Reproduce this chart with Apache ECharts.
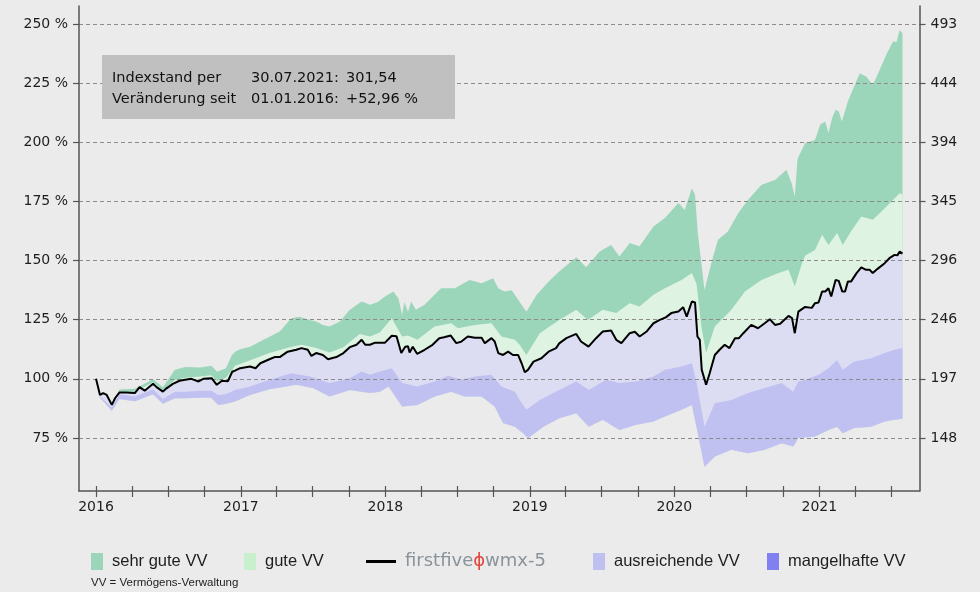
<!DOCTYPE html>
<html>
<head>
<meta charset="utf-8">
<script src="https://cdn.jsdelivr.net/npm/echarts@6.0.0/dist/echarts.min.js"></script>
<style>html,body{margin:0;padding:0;background:#ebebeb}#c{width:980px;height:592px}</style>
</head>
<body>
<div id="c"></div>
<script>
// ---------- data ----------
const yearLabels = [2016, 2017, 2018, 2019, 2020, 2021];
const leftTicks = [75, 100, 125, 150, 175, 200, 225, 250];
const rightLabels = ['148', '197', '246', '296', '345', '394', '444', '493'];
const legendNames = ['sehr gute VV', 'gute VV', 'firstfive wmx-5', 'ausreichende VV', 'mangelhafte VV'];
const infoRows = [
  ['Indexstand per', '30.07.2021:', '301,54'],
  ['Veränderung seit', '01.01.2016:', '+52,96 %']
];
const footNote = 'VV = Vermögens-Verwaltung';

// firstfive wmx-5 index (in % of 01.01.2016)
const indexLine = [
['2016-01-01',100],['2016-01-11',93.2],['2016-01-19',94],['2016-01-28',93.2],['2016-02-10',89],['2016-02-18',91.8],['2016-02-29',94.2],['2016-03-17',94.2],['2016-04-08',94],['2016-04-20',96.5],['2016-05-03',95],['2016-05-24',97.9],['2016-06-02',96.5],['2016-06-18',94.6],['2016-06-27',96],['2016-07-13',97.9],['2016-07-30',99.2],['2016-08-13',99.6],['2016-08-29',100],['2016-09-16',98.9],['2016-09-28',100],['2016-10-19',100.3],['2016-11-01',97.5],['2016-11-14',99.2],['2016-11-29',99],['2016-12-10',103],['2016-12-17',103.5],['2016-12-30',104.5],
['2017-01-24',105.2],['2017-02-07',104.5],['2017-02-19',106.6],['2017-03-14',108.3],['2017-03-27',109.2],['2017-04-09',109.2],['2017-04-29',111.5],['2017-05-21',112.3],['2017-06-03',113],['2017-06-19',112.3],['2017-06-28',109.7],['2017-07-10',110.9],['2017-07-27',110.1],['2017-08-09',108.3],['2017-08-30',109.2],['2017-09-17',110.9],['2017-10-03',113.4],['2017-10-20',114.4],['2017-11-02',116.5],['2017-11-11',114.4],['2017-11-23',114.4],['2017-12-06',115.3],['2017-12-31',115.3],
['2018-01-17',118.2],['2018-01-29',118],['2018-02-10',110.9],['2018-02-20',113.6],['2018-02-27',113.8],['2018-03-03',111.1],['2018-03-11',113.6],['2018-03-22',110.6],['2018-04-10',112.3],['2018-04-30',114.4],['2018-05-17',117.2],['2018-05-29',117.6],['2018-06-15',118.3],['2018-06-29',115.1],['2018-07-11',115.7],['2018-07-28',117.9],['2018-08-15',117.4],['2018-09-01',117.4],['2018-09-09',115.1],['2018-09-26',117.2],['2018-10-04',115.8],['2018-10-13',110.9],['2018-10-25',110.1],['2018-11-07',111.5],['2018-11-19',110.1],['2018-12-02',110.1],['2018-12-11',106.6],['2018-12-19',102.8],['2018-12-27',103.8],
['2019-01-10',107.3],['2019-01-30',108.7],['2019-02-17',111.5],['2019-03-08',113],['2019-03-16',115],['2019-04-03',117.2],['2019-04-28',119],['2019-05-10',115.8],['2019-05-29',113.6],['2019-06-17',117.2],['2019-07-04',120],['2019-07-25',120.4],['2019-08-07',116.5],['2019-08-20',115.1],['2019-09-10',119.3],['2019-09-23',119.9],['2019-10-05',117.9],['2019-10-22',119.9],['2019-11-09',123.5],['2019-11-25',124.9],['2019-12-10',126],['2019-12-24',127.8],
['2020-01-11',128.5],['2020-01-23',130.3],['2020-02-01',126.3],['2020-02-14',132.7],['2020-02-22',132.3],['2020-02-28',117.9],['2020-03-05',116.5],['2020-03-10',103.8],['2020-03-21',97.5],['2020-03-30',102.4],['2020-04-12',110.1],['2020-04-24',112.3],['2020-05-07',114.4],['2020-05-19',113],['2020-06-02',117.2],['2020-06-12',117.2],['2020-06-23',119.3],['2020-07-13',122.8],['2020-07-30',121.4],['2020-08-16',123.5],['2020-08-29',125.2],['2020-09-11',122.8],['2020-09-24',123.3],['2020-10-15',126.6],['2020-10-24',125.7],['2020-10-31',119.3],['2020-11-09',128.4],['2020-11-26',130.4],['2020-12-13',130],['2020-12-21',132],['2020-12-30',132.3],
['2021-01-08',136.9],['2021-01-16',136.9],['2021-01-24',138.3],['2021-01-31',134.8],['2021-02-11',141.8],['2021-02-19',141.4],['2021-02-28',136.9],['2021-03-07',136.9],['2021-03-14',141.1],['2021-03-22',141.1],['2021-04-05',144.7],['2021-04-17',147.1],['2021-04-29',146.1],['2021-05-08',146.1],['2021-05-16',144.7],['2021-05-28',146.5],['2021-06-15',148.9],['2021-06-27',151],['2021-07-10',152.4],['2021-07-17',152.2],['2021-07-23',153.8],['2021-07-30',152.96]
];

// upper edge of "sehr gute VV"
const sehrGuteTop = [
['2016-01-01',100],['2016-01-11',93.5],['2016-02-10',89.5],['2016-02-29',95.5],['2016-04-08',95.8],['2016-05-24',99.8],['2016-06-18',96.5],['2016-07-18',103.8],['2016-08-13',105],['2016-09-20',104.8],['2016-10-18',105.5],['2016-11-02',103],['2016-11-24',104.5],['2016-12-09',110],['2016-12-17',111.5],['2016-12-30',112.5],
['2017-01-24',113.6],['2017-02-27',116.5],['2017-04-09',120],['2017-05-08',125.6],['2017-05-29',126.3],['2017-06-24',124.9],['2017-07-10',124.2],['2017-07-27',122.8],['2017-08-13',122.1],['2017-09-08',124.2],['2017-10-03',129.2],['2017-11-02',132.7],['2017-11-23',131.3],['2017-12-13',132.5],['2017-12-31',134.8],
['2018-01-21',136.9],['2018-02-03',134],['2018-02-12',127],['2018-02-18',132.5],['2018-02-27',128.4],['2018-03-07',132.7],['2018-03-19',129.2],['2018-04-10',131.3],['2018-05-05',135.5],['2018-05-22',138.3],['2018-06-25',138.3],['2018-08-02',141.8],['2018-09-01',140.4],['2018-09-30',142.5],['2018-10-13',138.3],['2018-10-29',136.9],['2018-11-16',137.5],['2018-12-06',132.5],['2018-12-23',128.4],
['2019-01-18',135.5],['2019-02-21',141.8],['2019-03-16',145.4],['2019-04-28',151.4],['2019-05-23',147.2],['2019-06-26',153.8],['2019-07-25',156.6],['2019-08-15',151.7],['2019-09-10',157.4],['2019-10-05',156],['2019-11-09',164.4],['2019-12-08',168],
['2020-01-11',174.3],['2020-01-27',171.4],['2020-02-14',180.6],['2020-02-22',177.8],['2020-02-29',161.6],['2020-03-17',137.6],['2020-04-03',148.9],['2020-04-20',158.8],['2020-05-15',162.3],['2020-06-10',170],['2020-07-05',175.7],['2020-08-08',182],['2020-09-11',184.1],['2020-10-10',188.4],['2020-10-23',182.7],['2020-10-31',177.1],['2020-11-07',193],['2020-11-26',199.6],['2020-12-21',201],
['2021-01-03',207.4],['2021-01-16',208.8],['2021-01-24',203.9],['2021-02-02',210.2],['2021-02-11',213.7],['2021-02-19',213],['2021-02-27',208.8],['2021-03-14',217.2],['2021-04-13',229.2],['2021-04-29',227.8],['2021-05-16',224.3],['2021-05-28',228.5],['2021-06-19',237],['2021-07-06',242.6],['2021-07-15',242.4],['2021-07-23',247.5],['2021-07-30',246.1]
];

// upper edge of "gute VV"
const guteTop = [
['2016-01-01',100],['2016-01-11',93.4],['2016-02-10',89.2],['2016-02-29',94.6],['2016-04-08',94.6],['2016-05-24',98.6],['2016-06-18',95.2],['2016-07-18',99.5],['2016-08-13',100.5],['2016-09-20',101],['2016-10-18',101.5],['2016-11-02',99],['2016-11-24',100.5],['2016-12-10',103.8],['2016-12-17',105.5],
['2017-01-16',107.3],['2017-03-14',110.9],['2017-05-04',113.4],['2017-06-03',114.4],['2017-07-10',113],['2017-08-13',111.1],['2017-09-17',113.4],['2017-10-28',119],['2017-11-23',117.9],['2017-12-18',119.6],
['2018-01-17',125.6],['2018-02-12',117.9],['2018-02-27',118.3],['2018-03-23',116.5],['2018-05-05',122.1],['2018-06-16',123.5],['2018-07-03',121.4],['2018-08-15',122.8],['2018-09-26',123.5],['2018-10-21',117.9],['2018-11-24',116.5],['2018-12-06',114.4],['2018-12-23',110.1],
['2019-01-26',119.3],['2019-03-16',124.9],['2019-04-28',129.2],['2019-05-27',124.9],['2019-07-04',129.2],['2019-08-07',127.8],['2019-09-10',132],['2019-10-05',130.6],['2019-11-09',135.5],['2019-12-08',138.3],
['2020-01-19',141.8],['2020-02-14',144.7],['2020-02-26',140],['2020-03-09',122.1],['2020-03-21',110.9],['2020-04-12',122.1],['2020-05-24',129.2],['2020-06-27',136.9],['2020-08-08',141.8],['2020-09-20',144.7],['2020-10-15',146.1],['2020-10-31',139],['2020-11-18',148.9],['2020-11-26',152],['2020-12-21',154.5],
['2021-01-08',160.9],['2021-01-24',156.6],['2021-02-15',161.6],['2021-03-01',156.6],['2021-03-22',162.3],['2021-04-17',168.6],['2021-05-16',167.2],['2021-06-07',170.7],['2021-07-02',175],['2021-07-23',178.5],['2021-07-30',178]
];

// upper edge of the "ausreichende VV" band
const ausreichendeTop = [
['2016-01-01',100],['2016-01-11',92.5],['2016-02-10',88],['2016-02-29',93.5],['2016-04-08',92.5],['2016-05-24',95.5],['2016-06-18',91.5],['2016-07-18',94.5],['2016-08-13',94.6],['2016-09-20',95],['2016-10-18',95],['2016-11-05',93.2],['2016-11-24',93.5],['2016-12-17',95.3],
['2017-01-24',96.8],['2017-03-14',99.6],['2017-05-08',102.4],['2017-06-24',101],['2017-08-13',98.2],['2017-10-03',100.3],['2017-11-02',103.1],['2017-11-23',101.7],['2017-12-18',103.1],
['2018-01-17',104.5],['2018-02-12',98.2],['2018-03-23',96.8],['2018-05-05',98.9],['2018-06-08',101.3],['2018-07-11',99.6],['2018-08-15',101],['2018-09-26',101.7],['2018-10-21',96.8],['2018-11-24',94.6],['2018-12-06',91.1],['2018-12-23',86.9],
['2019-01-26',91.1],['2019-03-16',95.3],['2019-04-28',98.9],['2019-05-30',95.3],['2019-07-12',99.6],['2019-08-15',98.2],['2019-09-27',98.9],['2019-11-09',101],['2019-12-08',103.8],
['2020-01-19',105.2],['2020-02-14',106.6],['2020-02-26',98.2],['2020-03-17',79.8],['2020-04-12',89.7],['2020-05-24',91.1],['2020-07-05',94],['2020-08-16',96.1],['2020-09-28',98.2],['2020-10-27',94.6],['2020-11-09',98.9],['2020-11-26',99.6],['2020-12-30',101.7],
['2021-01-24',104.5],['2021-02-15',108],['2021-03-01',103.8],['2021-03-30',107.3],['2021-05-12',108.7],['2021-06-15',110.9],['2021-07-10',112.3],['2021-07-30',113]
];

// lower edge of the "ausreichende VV" band
const ausreichendeBottom = [
['2016-01-01',100],['2016-01-11',92],['2016-02-10',86.5],['2016-02-29',91.5],['2016-04-08',90.5],['2016-05-24',93.5],['2016-06-18',89.5],['2016-07-18',91.8],['2016-08-13',91.8],['2016-09-20',92],['2016-10-18',92],['2016-11-05',89],['2016-11-24',89.5],['2016-12-17',90.4],
['2017-01-24',93.2],['2017-03-14',95.6],['2017-05-21',97.5],['2017-07-02',96.1],['2017-08-13',92.5],['2017-10-03',95.3],['2017-11-23',94],['2017-12-18',94.6],
['2018-01-09',96.8],['2018-02-12',88.3],['2018-03-23',89],['2018-05-05',92.5],['2018-06-16',94.6],['2018-07-20',92.5],['2018-09-01',92.5],['2018-10-04',88.3],['2018-10-25',81.3],['2018-11-24',79.8],['2018-12-15',77],['2018-12-27',74.9],
['2019-02-04',79.8],['2019-03-16',83.4],['2019-04-28',85.5],['2019-05-30',79.8],['2019-07-04',82.7],['2019-08-15',78.4],['2019-09-27',80.6],['2019-11-09',82],['2019-12-08',84.1],
['2020-01-19',86.9],['2020-02-14',89],['2020-02-29',77],['2020-03-17',62.9],['2020-04-12',67.2],['2020-05-24',70],['2020-07-05',68.6],['2020-08-16',70],['2020-09-28',72.8],['2020-10-27',71.4],['2020-11-09',75],['2020-12-21',75.6],
['2021-01-24',78.4],['2021-02-15',79.8],['2021-03-01',77],['2021-03-30',79.2],['2021-05-12',79.8],['2021-06-15',82],['2021-07-10',82.7],['2021-07-30',83.1]
];

// ---------- styling ----------
const C = {
  bg: '#ebebeb',
  sehrGute: '#9cd6ba',
  gute: '#dff3e2',
  guteLegend: '#c9f0cd',
  mid: '#dcdcf3',
  ausreichend: '#c1c1f1',
  ausreichendLegend: '#c0c0f0',
  mangelhaft: '#8080f0',
  axis: '#555555',
  grid: '#8c8c8c',
  text: '#1e1e1e'
};
const axisFont = 'DejaVu Sans';
const legendFont = 'Liberation Sans';

const ts = s => { const p = s.split('-').map(Number); return new Date(p[0], p[1] - 1, p[2]).getTime(); };
const toXY = arr => arr.map(([d, v]) => [ts(d), v]);
const quarterTicks = [];
yearLabels.forEach(y => [1, 4, 7, 10].forEach(m => {
  const t = new Date(y, m - 1, 1).getTime();
  if (t <= ts('2021-07-30')) quarterTicks.push(t);
}));
const yearTicks = yearLabels.map(y => new Date(y, 0, 1).getTime());
const xMin = ts('2015-11-19');
const xMax = ts('2021-09-11');

// each band: filled polygon from its upper edge down to the common lower edge
const bottomXY = toXY(ausreichendeBottom).reverse();
const band = (name, top, color) => {
  const topXY = toXY(top);
  return {
    type: 'custom', name, coordinateSystem: 'cartesian2d', xAxisIndex: 0, yAxisIndex: 0,
    silent: true, z: 1, clip: true,
    data: [topXY[0]],
    itemStyle: { color },
    renderItem: (params, api) => ({
      type: 'polygon',
      shape: { points: topXY.concat(bottomXY).map(p => api.coord(p)) },
      style: { fill: color }
    })
  };
};

const legendBase = {
  top: 551.5, padding: 0, itemWidth: 12, itemHeight: 17, icon: 'rect', selectedMode: false,
  itemStyle: { borderWidth: 0 },
  textStyle: { fontFamily: legendFont, fontSize: 16.5, color: C.text, lineHeight: 20, padding: [0, 0, 0, 4] }
};
const infoFont = '14.5px "DejaVu Sans"';

const option = {
  animation: false,
  backgroundColor: C.bg,
  grid: { left: 79, right: 60.5, top: 6, bottom: 101, containLabel: false },
  xAxis: [{
    type: 'value', min: xMin, max: xMax, z: 3, scale: true,
    axisLine: { show: true, onZero: false, lineStyle: { color: C.axis, width: 1.5 } },
    axisTick: { show: true, length: 6, customValues: quarterTicks, lineStyle: { color: C.axis, width: 1.2 } },
    axisLabel: { show: true, customValues: yearTicks, formatter: v => String(new Date(v).getFullYear()),
      margin: 9, color: C.text, fontSize: 14, fontFamily: axisFont },
    splitLine: { show: false }
  }, {
    type: 'value', min: xMin, max: xMax, position: 'bottom', z: 3, scale: true,
    axisLine: { show: false, onZero: false },
    axisTick: { show: true, inside: true, length: 5, customValues: quarterTicks, lineStyle: { color: C.axis, width: 1.2 } },
    axisLabel: { show: false },
    splitLine: { show: false }
  }],
  yAxis: [{
    type: 'value', min: 52.6, max: 257.6, position: 'left', z: 3,
    axisLine: { show: true, onZero: false, lineStyle: { color: C.axis, width: 1.5 } },
    axisTick: { show: true, length: 6, customValues: leftTicks, lineStyle: { color: C.axis, width: 1.2 } },
    axisLabel: { customValues: leftTicks, formatter: v => v + ' %', margin: 11, color: C.text, fontSize: 14, fontFamily: axisFont },
    splitLine: { show: true, lineStyle: { color: C.grid, type: [4, 3], width: 1 } }
  }, {
    type: 'value', min: 52.6, max: 257.6, position: 'right', z: 3,
    axisLine: { show: true, onZero: false, lineStyle: { color: C.axis, width: 1.5 } },
    axisTick: { show: true, length: 6, customValues: leftTicks, lineStyle: { color: C.axis, width: 1.2 } },
    axisLabel: { customValues: leftTicks, formatter: v => rightLabels[leftTicks.indexOf(Math.round(v))] || '',
      margin: 11, color: C.text, fontSize: 14, fontFamily: axisFont },
    splitLine: { show: false }
  }],
  legend: [
    Object.assign({}, legendBase, { left: 91, data: [{ name: legendNames[0], itemStyle: { color: C.sehrGute } }] }),
    Object.assign({}, legendBase, { left: 244, data: [{ name: legendNames[1], itemStyle: { color: C.guteLegend } }] }),
    Object.assign({}, legendBase, {
      left: 366, itemWidth: 30, itemHeight: 3,
      data: [{ name: legendNames[2], itemStyle: { color: '#000' } }],
      formatter: () => '{a|firstfive}{b|ϕ}{a|wmx-5}',
      textStyle: Object.assign({}, legendBase.textStyle, {
        rich: {
          a: { fontFamily: 'DejaVu Sans', fontSize: 18, color: '#8a939a', lineHeight: 20 },
          b: { fontFamily: 'DejaVu Sans', fontSize: 18, color: '#e2463c', lineHeight: 20 }
        }
      })
    }),
    Object.assign({}, legendBase, { left: 593, data: [{ name: legendNames[3], itemStyle: { color: C.ausreichendLegend } }] }),
    Object.assign({}, legendBase, { left: 767, data: [{ name: legendNames[4], itemStyle: { color: C.mangelhaft } }] })
  ],
  graphic: [
    { type: 'rect', x: 102, y: 55, z: 10, shape: { width: 353, height: 64 }, style: { fill: '#c0c0c0' } },
    { type: 'text', x: 112, y: 78, z: 11, style: { text: infoRows[0][0], font: infoFont, fill: '#111', verticalAlign: 'middle' } },
    { type: 'text', x: 251, y: 78, z: 11, style: { text: infoRows[0][1], font: infoFont, fill: '#111', verticalAlign: 'middle' } },
    { type: 'text', x: 346, y: 78, z: 11, style: { text: infoRows[0][2], font: infoFont, fill: '#111', verticalAlign: 'middle' } },
    { type: 'text', x: 112, y: 99.5, z: 11, style: { text: infoRows[1][0], font: infoFont, fill: '#111', verticalAlign: 'middle' } },
    { type: 'text', x: 251, y: 99.5, z: 11, style: { text: infoRows[1][1], font: infoFont, fill: '#111', verticalAlign: 'middle' } },
    { type: 'text', x: 346, y: 99.5, z: 11, style: { text: infoRows[1][2], font: infoFont, fill: '#111', verticalAlign: 'middle' } },
    { type: 'text', x: 91, y: 583, z: 11, style: { text: footNote, font: '11.5px "Liberation Sans"', fill: '#222', verticalAlign: 'middle' } }
  ],
  series: [
    band(legendNames[0], sehrGuteTop, C.sehrGute),
    band(legendNames[1], guteTop, C.gute),
    band('_mid', indexLine, C.mid),
    band(legendNames[3], ausreichendeTop, C.ausreichend),
    { type: 'line', name: legendNames[4], data: [], itemStyle: { color: C.mangelhaft } },
    { type: 'line', name: legendNames[2], data: toXY(indexLine), showSymbol: false, symbol: 'none', z: 4,
      lineStyle: { color: '#000', width: 2 }, itemStyle: { color: '#000' } }
  ]
};

const chart = echarts.init(document.getElementById('c'));
chart.setOption(option);
</script>
</body>
</html>
